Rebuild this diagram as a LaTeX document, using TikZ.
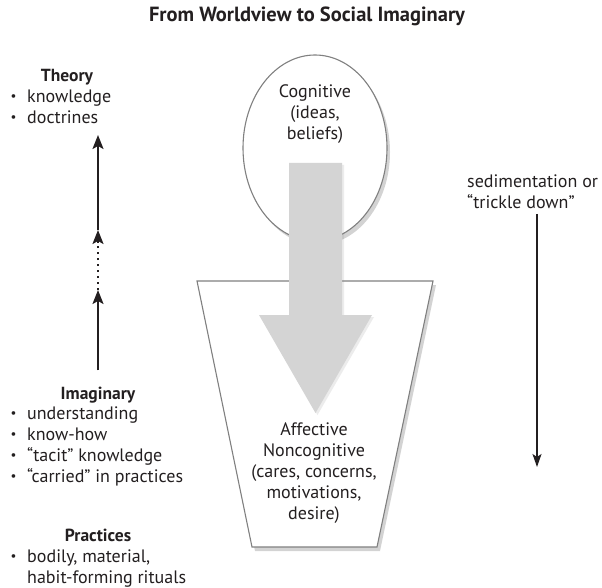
\documentclass[tikz,border=0pt]{standalone}
\usepackage{fontspec}
\setmainfont{PT Sans}
\usetikzlibrary{arrows.meta,shadows,shapes.geometric}
\definecolor{ink}{HTML}{231F20}
\definecolor{rim}{HTML}{808080}
\definecolor{flow}{HTML}{D4D4D4}
\newcommand{\bul}{\makebox[17pt][l]{\hspace{0.5pt}\raisebox{2pt}{\fontsize{13}{13}\selectfont\textbullet}}}

\begin{document}
\begin{tikzpicture}[x=1pt,y=-1pt,
  txt/.style={inner sep=0pt,text=ink,font=\fontsize{18}{21}\selectfont},
  head/.style={txt,font=\fontsize{17.5}{21}\selectfont\bfseries},
  uparrow/.style={line width=2pt,draw=ink,-{Stealth[length=14pt,width=11pt,inset=3pt]}},
  downarrow/.style={line width=1.5pt,draw=ink,-{Stealth[length=13pt,width=9pt,inset=3pt]}},
  rimline/.style={draw=rim,line width=1.1pt,fill=white,
    drop shadow={shadow xshift=3pt,shadow yshift=-4pt,opacity=.35}}]
\useasboundingbox (0,0) rectangle (602,588);

% title
\node[head,font=\fontsize{20.5}{24}\selectfont\bfseries,anchor=base] (title) at (307,22) {From Worldview to Social Imaginary};

% left column
\node[head,anchor=base] (theory) at (67,82) {Theory};
\node[txt,anchor=north west,align=left] (theorylist) at (10,89.5)
  {\bul knowledge\\ \bul doctrines};
\node[head,anchor=base] (imag) at (98,399) {Imaginary};
\node[txt,anchor=north west,align=left] (imaglist) at (10,406.5)
  {\bul understanding\\ \bul know-how\\ \bul “tacit” knowledge\\ \bul “carried” in practices};
\node[head,anchor=base] (prac) at (98,541) {Practices};
\node[txt,anchor=north west,align=left] (praclist) at (10,549.5)
  {\bul bodily, material,\\ \hspace*{17pt}habit-forming rituals};

\coordinate (up1) at (98,290);
\coordinate (up2) at (98,243);
\coordinate (up3) at (98,230);
\coordinate (up4) at (98,135);
\draw[uparrow,shorten <=16pt] (imag.north) -- (up1);
\draw[ink,line width=2pt,dash pattern=on 2pt off 4pt] (up1) -- (up2);
\draw[uparrow] (up2) -- (up3);
\draw[uparrow] (up3) -- (up4);

% trapezoid and ellipse
\coordinate (tl) at (197,281);
\coordinate (tr) at (433,281);
\coordinate (br) at (377,547);
\coordinate (bl) at (252,547);
\draw[rimline] (tl) -- (tr) -- (br) -- (bl) -- cycle;
\node[rimline,ellipse,minimum width=144pt,minimum height=186pt,inner sep=0pt] (cog) at (315,148) {};
\node[txt,anchor=north,align=center] (cogtext) at (315,84.5) {Cognitive\\(ideas,\\beliefs)};
\node[txt,anchor=north,align=center] (afftext) at (314,422.5)
  {Affective\\Noncognitive\\(cares, concerns,\\motivations,\\desire)};

% big gray arrow
\fill[flow,drop shadow={shadow xshift=2pt,shadow yshift=-2pt,opacity=.15}]
  (289,163) -- (342,163) -- (342,315) -- (372,315) -- (315.5,413) -- (259,315) -- (289,315) -- cycle;

% right side
\node[txt,anchor=north west,align=left] (sed) at (467,174.5) {sedimentation or\\“trickle down”};
\coordinate (sedend) at (537,467);
\draw[downarrow,shorten <=5pt] (sed.south -| sedend) -- (sedend);
\end{tikzpicture}
\end{document}
